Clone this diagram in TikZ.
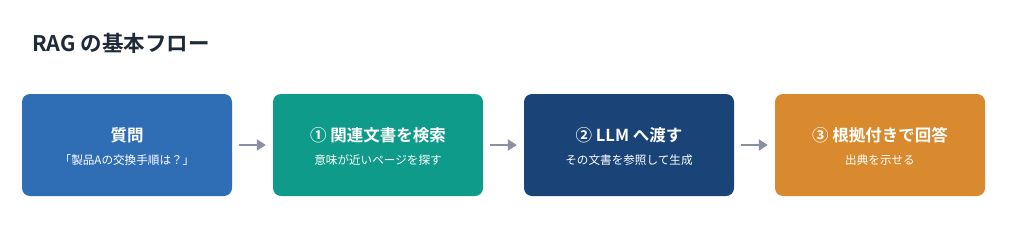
\documentclass[tikz,border=0pt]{standalone}
\usepackage{fontspec}
\setmainfont{Noto Sans CJK JP}
\newfontfamily\jpbold{Noto Sans CJK JP Bold}
\usetikzlibrary{arrows.meta}
\definecolor{cBlue}{HTML}{2F6DB5}
\definecolor{cTeal}{HTML}{0F9B8A}
\definecolor{cNavy}{HTML}{1A4478}
\definecolor{cOrange}{HTML}{D98A2E}
\definecolor{cTitle}{HTML}{1F2937}
\definecolor{cArrow}{HTML}{8A90A0}
\tikzset{
  stepbox/.style={rounded corners=8pt, minimum width=210pt, minimum height=102pt, inner sep=0pt, draw=none},
  headtxt/.style={text=white, font=\jpbold\fontsize{16.5}{19}\selectfont, inner sep=0pt},
  subtxt/.style={text=white, font=\fontsize{11.6}{14}\selectfont, inner sep=0pt},
  flow/.style={draw=cArrow, line width=2.6pt, -{Triangle[length=9pt,width=11pt]}, shorten <=7pt, shorten >=7pt}
}
\begin{document}
\begin{tikzpicture}[x=1pt,y=-1pt]
\useasboundingbox (0,0) rectangle (1024,225);
\node[anchor=west, text=cTitle, font=\jpbold\fontsize{21.5}{25}\selectfont, inner sep=0pt] (title) at (32,43) {RAG の基本フロー};
\node[stepbox, fill=cBlue] (b1) at (127,145) {};
\node[stepbox, fill=cTeal] (b2) at (378,145) {};
\node[stepbox, fill=cNavy] (b3) at (629,145) {};
\node[stepbox, fill=cOrange] (b4) at (880,145) {};
\node[headtxt] (h1) at (127,135) {質問};
\node[subtxt] (s1) at (127,160) {「製品Aの交換手順は？」};
\node[headtxt] (h2) at (378,135) {① 関連文書を検索};
\node[subtxt] (s2) at (378,160) {意味が近いページを探す};
\node[headtxt] (h3) at (629,135) {② LLM へ渡す};
\node[subtxt] (s3) at (629,160) {その文書を参照して生成};
\node[headtxt] (h4) at (880,135) {③ 根拠付きで回答};
\node[subtxt] (s4) at (880,160) {出典を示せる};
\draw[flow] (b1.east) -- (b2.west);
\draw[flow] (b2.east) -- (b3.west);
\draw[flow] (b3.east) -- (b4.west);
\end{tikzpicture}
\end{document}
